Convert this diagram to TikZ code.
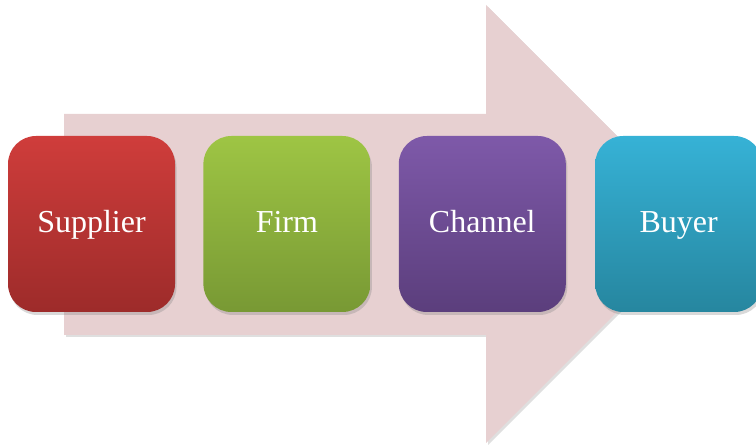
\documentclass[tikz,border=0pt]{standalone}
\usepackage{fontspec}
\setmainfont{Liberation Serif}
\usetikzlibrary{positioning, shadows}
\definecolor{redtop}{HTML}{CF3D3B}
\definecolor{redbot}{HTML}{9D2B2A}
\definecolor{greentop}{HTML}{9EC544}
\definecolor{greenbot}{HTML}{789934}
\definecolor{purpletop}{HTML}{7E59A9}
\definecolor{purplebot}{HTML}{5B3E7C}
\definecolor{bluetop}{HTML}{36B2D6}
\definecolor{bluebot}{HTML}{26869F}
\definecolor{arrowpink}{HTML}{E7D0D1}
\tikzset{
stage/.style={rounded corners=28pt, minimum width=167pt, minimum height=176pt,
  inner sep=0pt, text=white, font=\fontsize{32}{36}\selectfont,
  text height=26pt, text depth=8pt,
  drop shadow={shadow xshift=1.5pt, shadow yshift=-3pt, opacity=0.3}},
flow/.style={fill=arrowpink,
  drop shadow={shadow xshift=2pt, shadow yshift=-2pt, opacity=0.25}}
}

\begin{document}
\begin{tikzpicture}[x=1pt, y=1pt]
\useasboundingbox (0,0) rectangle (756,445);
% big arrow behind the stages
\coordinate (tail top) at (64,331);
\coordinate (tail bot) at (64,110);
\coordinate (neck top) at (486,331);
\coordinate (neck bot) at (486,110);
\coordinate (head top) at (486,440);
\coordinate (head bot) at (486,2);
\coordinate (tip) at (705,221);
\path[flow] (tail bot) -- (neck bot) -- (head bot) -- (tip) -- (head top)
  -- (neck top) -- (tail top) -- cycle;

% stages
\node[stage, top color=redtop, bottom color=redbot] (supplier) at (91.5,221) {Supplier};
\node[stage, top color=greentop, bottom color=greenbot, right=28pt of supplier] (firm) {Firm};
\node[stage, top color=purpletop, bottom color=purplebot, right=28pt of firm] (channel) {Channel};
\node[stage, top color=bluetop, bottom color=bluebot, right=29pt of channel] (buyer) {Buyer};
\end{tikzpicture}
\end{document}
